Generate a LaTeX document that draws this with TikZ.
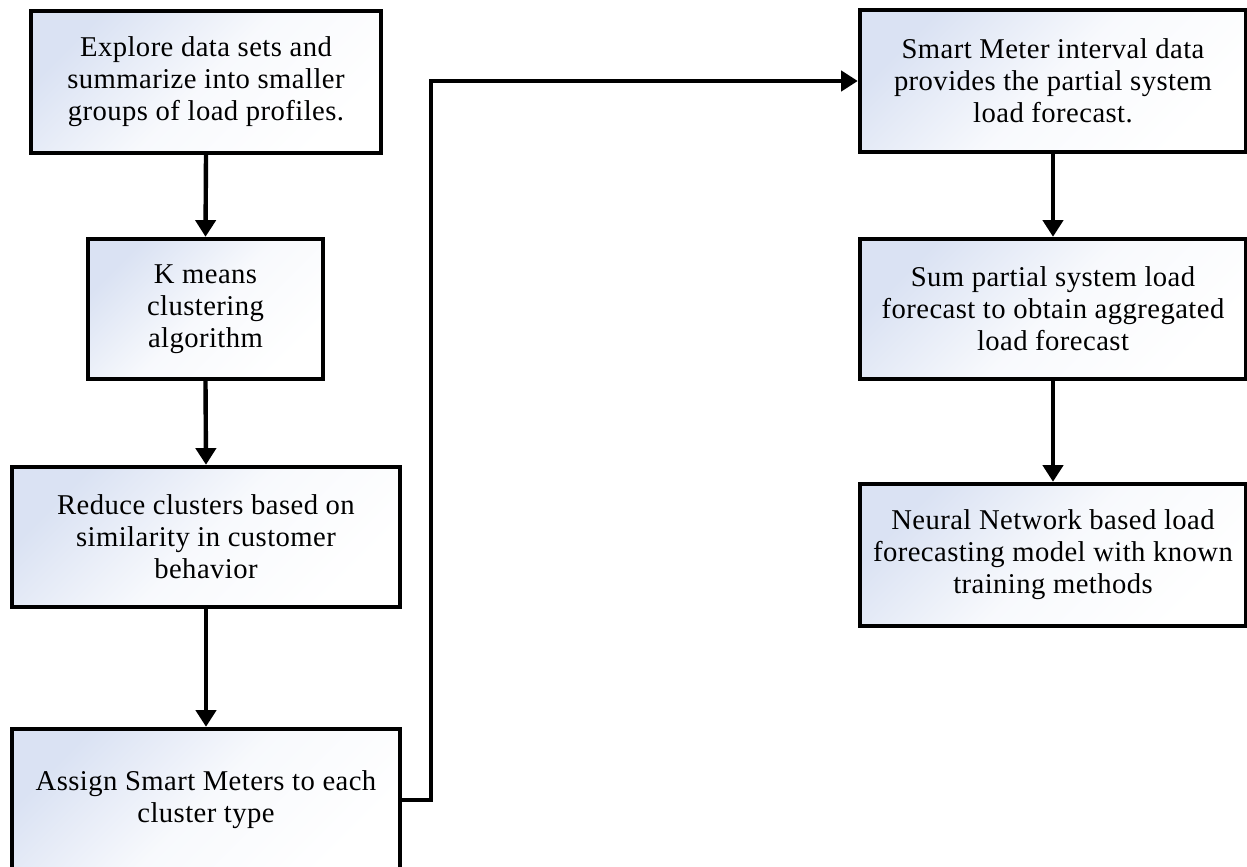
\documentclass[tikz,border=0pt]{standalone}
\usepackage{fontspec}
\setmainfont{Liberation Serif}[LetterSpace=1.5]
\usetikzlibrary{arrows.meta}
\newdimen\px
\px=0.75pt
\definecolor{boxtint}{RGB}{218,226,243}
\begin{document}
\begin{tikzpicture}[x=0.75pt, y=-0.75pt,
  flowbox/.style={draw=black, line width=3.3pt, rectangle, align=center,
    shading=axis, top color=boxtint, bottom color=white, middle color=boxtint!20!white,
    shading angle=45, inner sep=0pt,
    font=\fontsize{21.5pt}{24pt}\selectfont},
  flowarrow/.style={line width=3.3pt, -{Triangle[length=12.5pt, width=15pt]}}]
  \useasboundingbox (0,0) rectangle (1247,867);
  \clip (0,0) rectangle (1247,867);

  % left column
  \node[flowbox, minimum width=350\px, minimum height=142\px] (b1) at (206,82)
    {Explore data sets and\\summarize into smaller\\groups of load profiles.};
  \node[flowbox, minimum width=235\px, minimum height=140\px] (b2) at (205.5,309)
    {K means\\clustering\\algorithm};
  \node[flowbox, minimum width=388\px, minimum height=140\px] (b3) at (206,537)
    {Reduce clusters based on\\similarity in customer\\behavior};
  \node[flowbox, minimum width=388\px, minimum height=142\px] (b4) at (206,800)
    {Assign Smart Meters to each\\cluster type};

  % right column
  \node[flowbox, minimum width=386\px, minimum height=142\px] (b5) at (1053,81)
    {Smart Meter interval data\\provides the partial system\\load forecast.};
  \node[flowbox, minimum width=386\px, minimum height=140\px] (b6) at (1053,309)
    {Sum partial system load\\forecast to obtain aggregated\\load forecast};
  \node[flowbox, minimum width=386\px, minimum height=142\px] (b7) at (1053,555)
    {Neural Network based load\\forecasting model with known\\training methods};

  % connectors
  \draw[flowarrow] (b1.south) -- (b2.north);
  \draw[flowarrow] (b2.south) -- (b3.north);
  \draw[flowarrow] (b3.south) -- (b4.north);
  \draw[flowarrow] (b4.east) -- ++(29,0) |- (b5.west);
  \draw[flowarrow] (b5.south) -- (b6.north);
  \draw[flowarrow] (b6.south) -- (b7.north);
\end{tikzpicture}
\end{document}
